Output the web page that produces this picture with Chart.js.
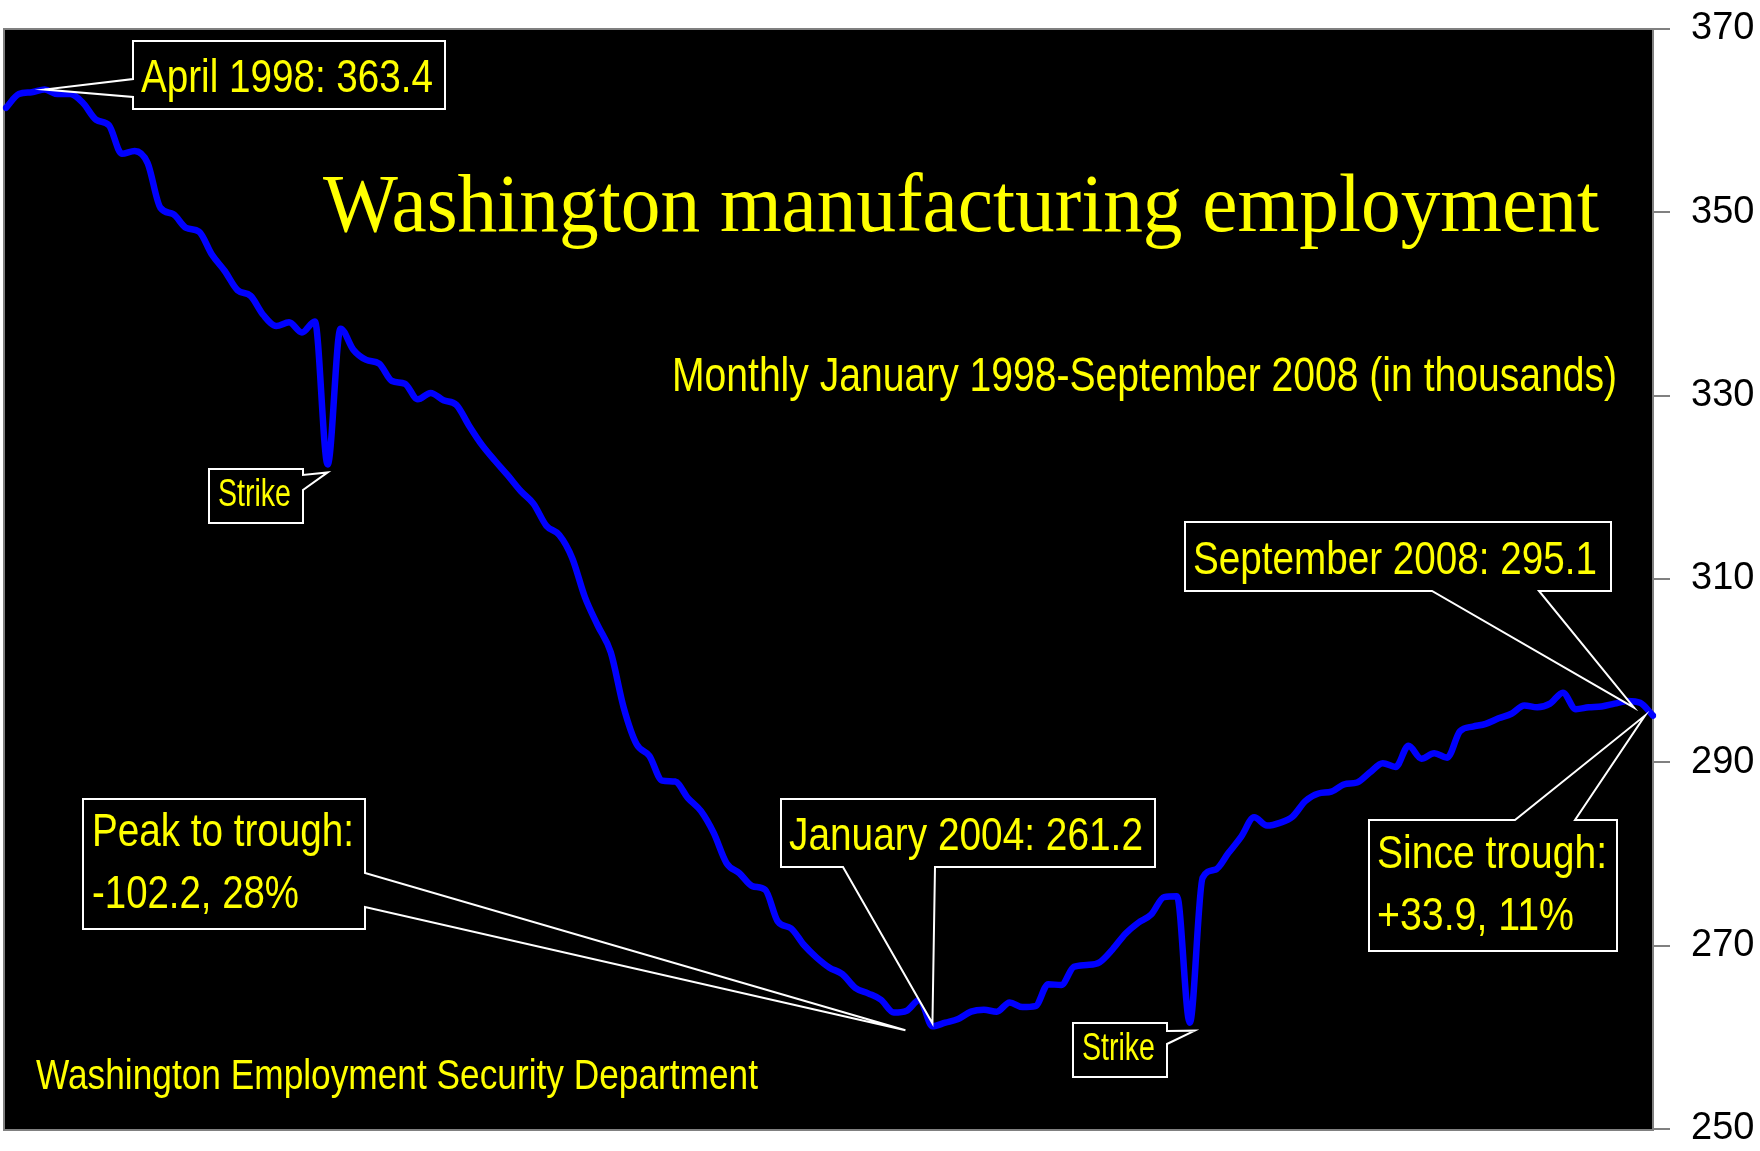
<!DOCTYPE html>
<html>
<head>
<meta charset="utf-8">
<title>Washington manufacturing employment</title>
<script src="https://cdn.jsdelivr.net/npm/chart.js@4.4.0/dist/chart.umd.min.js"></script>
<style>
	html, body { margin: 0; padding: 0; background: #fff; }
	#wrap { width: 1760px; height: 1151px; }
</style>
</head>
<body>
<div id="wrap"><canvas id="mfgChart" width="1760" height="1151"></canvas></div>
<script>
// monthly, January 1998 - September 2008, thousands of jobs
const monthNames = ['Jan', 'Feb', 'Mar', 'Apr', 'May', 'Jun', 'Jul', 'Aug', 'Sep', 'Oct', 'Nov', 'Dec'];
const years = [1998, 1999, 2000, 2001, 2002, 2003, 2004, 2005, 2006, 2007, 2008];
const employment = [
	361.4, 362.9, 363.1, 363.4, 362.9, 362.9, 361.9, 360.1, 359.5, 356.4, 356.7, 355.4,
	350.5, 349.8, 348.3, 347.9, 345.4, 343.6, 341.5, 340.9, 338.8, 337.6, 338.0, 336.9,
	338.1, 322.5, 337.3, 335.0, 333.9, 333.5, 331.6, 331.3, 329.6, 330.3, 329.5, 329.0,
	326.7, 324.6, 322.9, 321.3, 319.6, 318.2, 315.8, 314.8, 312.3, 308.0, 304.9, 302.0,
	296.0, 292.0, 290.7, 288.0, 287.9, 286.1, 284.7, 282.3, 279.0, 277.9, 276.5, 276.1,
	272.6, 271.9, 270.1, 268.7, 267.6, 266.9, 265.4, 264.8, 264.1, 262.7, 262.9, 264.1,
	261.2, 261.6, 262.0, 262.8, 263.0, 262.8, 263.8, 263.3, 263.4, 265.8, 265.7, 267.7,
	267.9, 268.2, 269.6, 271.3, 272.5, 273.4, 275.3, 275.4, 261.6, 277.4, 278.3, 280.1,
	281.9, 284.0, 283.1, 283.4, 284.1, 285.8, 286.6, 286.8, 287.6, 287.8, 288.9, 289.9,
	289.5, 291.8, 290.4, 291.0, 290.5, 293.4, 293.9, 294.2, 294.8, 295.3, 296.2, 296.0,
	296.4, 297.6, 295.8, 296.0, 296.1, 296.4, 296.7, 296.5, 295.1
];
const yTicks = [250, 270, 290, 310, 330, 350, 370];

const labels = [];
years.forEach(y => monthNames.forEach(m => {
	if (labels.length < employment.length) labels.push(m + ' ' + y);
}));

const SANS = '"Liberation Sans", Arial, sans-serif';
const SERIF = '"Liberation Serif", "Times New Roman", serif';
const YELLOW = '#ffff00';

// boxes with a pointer wedge; tip is tied to a data point (idx) plus a small nudge
const callouts = [
	{ box: [133, 41, 445, 109], side: 'left', base: [79, 97], idx: 3, nudge: [0, 0],
	  lines: [['April 1998: 363.4', 141, 92, 292]], size: 46 },
	{ box: [209, 469, 303, 523], side: 'right', base: [475, 490], idx: 25, nudge: [0, 8],
	  lines: [['Strike', 218, 506, 73]], size: 38 },
	{ box: [781, 799, 1155, 867], side: 'bottom', base: [843, 935], idx: 72, nudge: [0, -3],
	  lines: [['January 2004: 261.2', 789, 850, 354]], size: 46 },
	{ box: [83, 799, 365, 929], side: 'right', base: [873, 907], idx: 72, nudge: [-27, 4],
	  lines: [['Peak to trough:', 92, 846, 262], ['-102.2, 28%', 92, 908, 207]], size: 46 },
	{ box: [1073, 1023, 1167, 1077], side: 'right', base: [1031, 1044], idx: 92, nudge: [5, 8],
	  lines: [['Strike', 1082, 1060, 73]], size: 38 },
	{ box: [1185, 522, 1611, 591], side: 'bottom', base: [1432, 1539], idx: 128, nudge: [-19, -8],
	  lines: [['September 2008: 295.1', 1193, 574, 404]], size: 46 },
	{ box: [1369, 820, 1617, 951], side: 'top', base: [1515, 1575], idx: 128, nudge: [-8, 0],
	  lines: [['Since trough:', 1377, 868, 230], ['+33.9, 11%', 1377, 930, 197]], size: 46 }
];

function calloutPath(ctx, c, tip) {
	const [x1, y1, x2, y2] = c.box;
	const [a, b] = c.base;
	ctx.beginPath();
	ctx.moveTo(x1, y1);
	if (c.side === 'top') { ctx.lineTo(a, y1); ctx.lineTo(tip.x, tip.y); ctx.lineTo(b, y1); }
	ctx.lineTo(x2, y1);
	if (c.side === 'right') { ctx.lineTo(x2, a); ctx.lineTo(tip.x, tip.y); ctx.lineTo(x2, b); }
	ctx.lineTo(x2, y2);
	if (c.side === 'bottom') { ctx.lineTo(b, y2); ctx.lineTo(tip.x, tip.y); ctx.lineTo(a, y2); }
	ctx.lineTo(x1, y2);
	if (c.side === 'left') { ctx.lineTo(x1, b); ctx.lineTo(tip.x, tip.y); ctx.lineTo(x1, a); }
	ctx.closePath();
}

function drawText(ctx, str, x, y, font, maxW) {
	ctx.font = font;
	if (maxW) ctx.fillText(str, x, y, maxW);
	else ctx.fillText(str, x, y);
}

const backdrop = {
	id: 'backdrop',
	beforeDraw(chart) {
		const { ctx, chartArea: a } = chart;
		ctx.save();
		ctx.fillStyle = '#fff';
		ctx.fillRect(0, 0, chart.width, chart.height);
		ctx.fillStyle = '#000';
		ctx.fillRect(a.left - 2, a.top, a.right - a.left + 2, a.bottom - a.top + 1);
		ctx.strokeStyle = '#808080';
		ctx.lineWidth = 2;
		ctx.strokeRect(a.left - 2, a.top, a.right - a.left + 2, a.bottom - a.top + 1);
		ctx.restore();
	}
};

const notes = {
	id: 'notes',
	afterDatasetsDraw(chart) {
		const ctx = chart.ctx;
		const xs = chart.scales.x;
		const ys = chart.scales.y;
		ctx.save();
		ctx.textBaseline = 'alphabetic';
		ctx.textAlign = 'left';
		ctx.fillStyle = YELLOW;
		drawText(ctx, 'Washington manufacturing employment', 323, 231, '82px ' + SERIF, 1276);
		drawText(ctx, 'Monthly January 1998-September 2008 (in thousands)', 672, 391, '48px ' + SANS, 945);
		drawText(ctx, 'Washington Employment Security Department', 36, 1089, '42px ' + SANS, 722);

		callouts.forEach(c => {
			const tip = {
				x: xs.getPixelForValue(c.idx) + c.nudge[0],
				y: ys.getPixelForValue(employment[c.idx]) + c.nudge[1]
			};
			calloutPath(ctx, c, tip);
			ctx.fillStyle = '#000';
			ctx.fill();
			ctx.strokeStyle = '#fff';
			ctx.lineWidth = 2;
			ctx.lineJoin = 'miter';
			ctx.stroke();
			ctx.fillStyle = YELLOW;
			c.lines.forEach(l => drawText(ctx, l[0], l[1], l[2], c.size + 'px ' + SANS, l[3]));
		});
		ctx.restore();
	}
};

new Chart(document.getElementById('mfgChart'), {
	type: 'line',
	data: {
		labels: labels,
		datasets: [{
			label: 'Washington manufacturing employment',
			data: employment,
			borderColor: '#0000ff',
			borderWidth: 6.5,
			pointRadius: 0,
			tension: 0.4,
			cubicInterpolationMode: 'monotone',
			borderJoinStyle: 'round',
			borderCapStyle: 'round',
			fill: false
		}]
	},
	options: {
		responsive: false,
		animation: false,
		devicePixelRatio: 1,
		layout: { padding: { left: 6, top: 29, right: 0, bottom: 22 } },
		plugins: {
			legend: { display: false },
			tooltip: { enabled: false },
			title: { display: false }
		},
		scales: {
			x: {
				type: 'category',
				display: false,
				offset: false
			},
			y: {
				position: 'right',
				min: 250,
				max: 370,
				afterBuildTicks: s => { s.ticks = yTicks.map(v => ({ value: v })); },
				afterFit: s => {
					s.width = 107;
					s.paddingTop = 0;
					s.paddingBottom = 0;
				},
				grid: { drawOnChartArea: false, drawTicks: true, tickLength: 17, color: '#808080', lineWidth: 2 },
				border: { display: true, color: '#808080', width: 2 },
				ticks: { color: '#000', padding: 21, font: { family: SANS, size: 38 } }
			}
		}
	},
	plugins: [backdrop, notes]
});
</script>
</body>
</html>
